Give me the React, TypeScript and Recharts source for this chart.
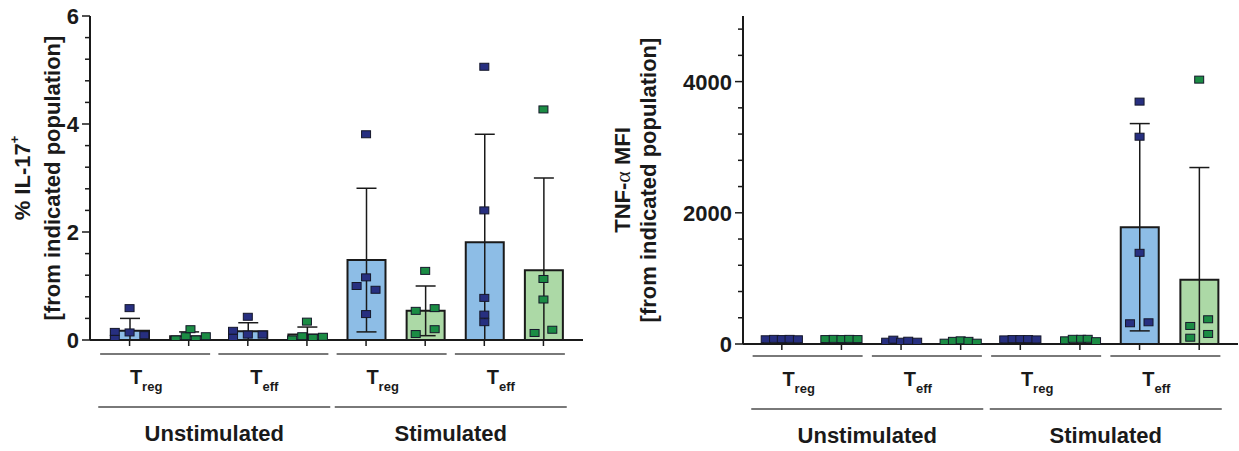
import React from 'react';
import { ComposedChart, Bar, Cell, ErrorBar, Scatter, XAxis, YAxis } from 'recharts';

// group labels under the x axis
const CONDITIONS = ['Unstimulated', 'Stimulated'];
const POPULATIONS = ['reg', 'eff', 'reg', 'eff']; // subscripts of "T"

// bar / dot colours, alternating within each population pair
const FILLS = ['#8dbde6', '#acd9a6'];
const DOTS = ['#272f80', '#1b8c44'];

// % IL-17+ (left panel): Treg, Teff unstimulated, then Treg, Teff stimulated
const il17Mean = [0.17, 0.07, 0.16, 0.1, 1.48, 0.54, 1.81, 1.29];
const il17Sd = [0.23, 0.08, 0.16, 0.14, 1.33, 0.46, 2.0, 1.71];
const il17Points = [
  [0.59, 0.15, 0.02, 0.14, 0.09],
  [0.01, 0.07, 0.2, 0.01, 0.07],
  [0.17, 0.04, 0.43, 0.1, 0.1],
  [0.01, 0.07, 0.34, 0.04, 0.06],
  [3.81, 1.16, 1.0, 0.93, 0.48],
  [1.28, 0.54, 0.59, 0.11, 0.2],
  [5.06, 2.4, 0.78, 0.47, 0.33],
  [4.27, 1.13, 0.75, 0.13, 0.19],
];
// horizontal spread of the dots, in category widths
const il17Jitter = [
  [0, -0.25, -0.25, 0, 0.25],
  [-0.22, -0.05, 0.03, 0.12, 0.29],
  [-0.25, -0.25, 0, 0, 0.25],
  [-0.25, -0.08, 0, 0.1, 0.27],
  [0, 0, -0.16, 0.16, 0],
  [0, -0.16, 0.16, -0.16, 0.16],
  [0, 0, 0, 0, 0],
  [0, 0, 0, -0.15, 0.15],
];
const il17Ticks = [0, 0.4, 0.8, 1.2, 1.6, 2, 2.4, 2.8, 3.2, 3.6, 4, 4.4, 4.8, 5.2, 5.6, 6];
const il17Labels = [0, 2, 4, 6];

// TNF-alpha MFI (right panel)
const tnfMean = [75, 76, 45, 38, 73, 67, 1780, 980];
const tnfSd = [3, 2, 15, 18, 3, 15, 1580, 1710];
const tnfPoints = [
  [72, 78, 75, 78, 72],
  [75, 78, 75, 78, 75],
  [35, 66, 35, 50, 35],
  [20, 48, 56, 48, 20],
  [70, 75, 75, 75, 70],
  [56, 79, 79, 79, 43],
  [3695, 3160, 1390, 316, 331],
  [4030, 377, 275, 153, 96],
];
const ROW = [-0.27, -0.13, 0, 0.13, 0.27];
const tnfJitter = [
  ROW,
  ROW,
  [-0.25, -0.13, 0, 0.12, 0.27],
  ROW,
  ROW,
  [-0.25, -0.12, 0.02, 0.13, 0.27],
  [0, 0, 0, -0.16, 0.15],
  [0, 0.15, -0.15, 0.15, -0.15],
];
const tnfTicks = [0, 400, 800, 1200, 1600, 2000, 2400, 2800, 3200, 3600, 4000, 4400, 4800];
const tnfLabels = [0, 2000, 4000];

const INK = '#1a1a1a';
const RULE = '#4d4d4d';
const FONT = '"Liberation Sans", Arial, sans-serif';

// x axes stack downward in id order
const MAIN_AXIS = 0;
const POP_AXIS = 1;
const COND_AXIS = 2;
const DOT_AXIS = 3;
const SLOTS: [number, number] = [-0.5, 7.5];

const YTick = (props: any) => {
  const { x, y, payload, majors } = props;
  const major = majors.includes(payload.value);
  return (
    <g>
      <line x1={x} x2={x - (major ? 8 : 5)} y1={y} y2={y} stroke={INK} strokeWidth={1.5} />
      {major && (
        <text x={x - 11} y={y} dy="0.36em" textAnchor="end" fontFamily={FONT} fontWeight="bold" fontSize={22} fill={INK}>
          {payload.value}
        </text>
      )}
    </g>
  );
};

// short downward mark under every bar
const CategoryTick = (props: any) => {
  const { x, y } = props;
  return <line x1={x} x2={x} y1={y} y2={y + 6} stroke={INK} strokeWidth={1.5} />;
};

const PopulationTick = (props: any) => {
  const { x, y, index } = props;
  const cx = x - 4;
  return (
    <g>
      <line x1={cx - 55} x2={cx + 55} y1={y + 4} y2={y + 4} stroke={RULE} strokeWidth={1.5} />
      <text x={cx - 9} y={y + 34} textAnchor="middle" fontFamily={FONT} fontWeight="bold" fontSize={20} fill={INK}>
        T
        <tspan fontSize={13} dy={7}>
          {POPULATIONS[index]}
        </tspan>
      </text>
    </g>
  );
};

const ConditionTick = (props: any) => {
  const { x, y, index } = props;
  const cx = x - 4;
  return (
    <g>
      <line x1={cx - 116} x2={cx + 116} y1={y + 7} y2={y + 7} stroke={RULE} strokeWidth={1.5} />
      <text x={cx} y={y + 41} textAnchor="middle" fontFamily={FONT} fontWeight="bold" fontSize={22} fill={INK}>
        {CONDITIONS[index]}
      </text>
    </g>
  );
};

const Dot = (props: any) => {
  const { cx, cy, payload } = props;
  if (cx == null || cy == null) return null;
  return <rect x={cx - 4.5} y={cy - 3.5} width={9} height={7} fill={payload.color} stroke="#15172a" strokeWidth={1} />;
};

type TitleProps = { viewBox?: any; first: React.ReactNode; x1: number; x2: number };

const AxisTitle = ({ viewBox, first, x1, x2 }: TitleProps) => {
  const vx = viewBox?.x ?? 0;
  const cy = (viewBox?.y ?? 16) + (viewBox?.height ?? 324) / 2;
  const common = {
    textAnchor: 'middle' as const,
    dominantBaseline: 'central' as const,
    fontFamily: FONT,
    fontWeight: 'bold',
    fontSize: 22,
    fill: INK,
  };
  return (
    <g>
      <text x={vx + x1} y={cy} transform={`rotate(-90 ${vx + x1} ${cy})`} {...common}>
        {first}
      </text>
      <text x={vx + x2} y={cy} transform={`rotate(-90 ${vx + x2} ${cy})`} {...common}>
        [from indicated population]
      </text>
    </g>
  );
};

type PanelProps = {
  width: number;
  margin: { top: number; right: number; bottom: number; left: number };
  yWidth: number;
  mainHeight: number;
  pad: number;
  domain: [number, number];
  ticks: number[];
  majors: number[];
  means: number[];
  sds: number[];
  points: number[][];
  jitter: number[][];
  title: React.ReactNode;
  titleX: [number, number];
};

const Panel = (p: PanelProps) => {
  const rows = p.means.map((m, i) => ({
    key: `g${i}`,
    pos: i,
    mean: m,
    err: [Math.min(p.sds[i], m), p.sds[i]],
  }));
  const dots = p.points.flatMap((vals, i) =>
    vals.map((v, j) => ({ x: i + p.jitter[i][j], y: v, color: DOTS[i % 2] }))
  );
  const padding = { left: p.pad, right: p.pad };
  return (
    <ComposedChart width={p.width} height={451} data={rows} margin={p.margin}>
      <XAxis
        xAxisId={MAIN_AXIS}
        dataKey="key"
        type="category"
        height={p.mainHeight}
        padding={padding}
        interval={0}
        tickLine={false}
        tickSize={0}
        tickMargin={0}
        tick={<CategoryTick />}
        axisLine={{ stroke: INK, strokeWidth: 2 }}
      />
      <XAxis
        xAxisId={POP_AXIS}
        dataKey="pos"
        type="number"
        domain={SLOTS}
        allowDataOverflow
        ticks={[0.5, 2.5, 4.5, 6.5]}
        interval={0}
        height={50}
        padding={padding}
        axisLine={false}
        tickLine={false}
        tickSize={0}
        tickMargin={0}
        tick={<PopulationTick />}
      />
      <XAxis
        xAxisId={COND_AXIS}
        dataKey="pos"
        type="number"
        domain={SLOTS}
        allowDataOverflow
        ticks={[1.5, 5.5]}
        interval={0}
        height={44}
        padding={padding}
        axisLine={false}
        tickLine={false}
        tickSize={0}
        tickMargin={0}
        tick={<ConditionTick />}
      />
      <XAxis xAxisId={DOT_AXIS} dataKey="x" type="number" domain={SLOTS} allowDataOverflow padding={padding} hide />
      <YAxis
        type="number"
        domain={p.domain}
        allowDataOverflow
        ticks={p.ticks}
        interval={0}
        width={p.yWidth}
        tickLine={false}
        tickSize={0}
        tickMargin={0}
        axisLine={{ stroke: INK, strokeWidth: 2 }}
        tick={<YTick majors={p.majors} />}
        label={{
          content: (lp: any) => <AxisTitle viewBox={lp.viewBox} first={p.title} x1={p.titleX[0]} x2={p.titleX[1]} />,
        }}
      />
      <Bar xAxisId={MAIN_AXIS} dataKey="mean" barSize={38} stroke={INK} strokeWidth={2} isAnimationActive={false}>
        {rows.map((r, i) => (
          <Cell key={r.key} fill={FILLS[i % 2]} />
        ))}
        <ErrorBar dataKey="err" direction="y" width={10} stroke={INK} strokeWidth={1.5} isAnimationActive={false} />
      </Bar>
      <Scatter xAxisId={DOT_AXIS} data={dots} dataKey="y" shape={Dot} isAnimationActive={false} />
    </ComposedChart>
  );
};

export default function App() {
  return (
    <div style={{ position: 'absolute', left: 0, top: 0, width: 1239, height: 451, background: '#fff' }}>
      <div style={{ position: 'absolute', left: 0, top: 0 }}>
        <Panel
          width={600}
          margin={{ top: 16, right: 17, bottom: 7, left: 0 }}
          yWidth={90}
          mainHeight={10}
          pad={10}
          domain={[0, 6]}
          ticks={il17Ticks}
          majors={il17Labels}
          means={il17Mean}
          sds={il17Sd}
          points={il17Points}
          jitter={il17Jitter}
          title={
            <>
              % IL-17
              <tspan fontSize={13} dy={-8}>
                +
              </tspan>
            </>
          }
          titleX={[22, 52]}
        />
      </div>
      <div style={{ position: 'absolute', left: 600, top: 0 }}>
        <Panel
          width={639}
          margin={{ top: 16, right: 1, bottom: 5, left: 0 }}
          yWidth={143}
          mainHeight={8}
          pad={9}
          domain={[0, 5000]}
          ticks={tnfTicks}
          majors={tnfLabels}
          means={tnfMean}
          sds={tnfSd}
          points={tnfPoints}
          jitter={tnfJitter}
          title={
            <>
              TNF-
              <tspan fontFamily='"Liberation Serif", serif' fontWeight="normal">
                α
              </tspan>{' '}
              MFI
            </>
          }
          titleX={[22, 48]}
        />
      </div>
    </div>
  );
}
